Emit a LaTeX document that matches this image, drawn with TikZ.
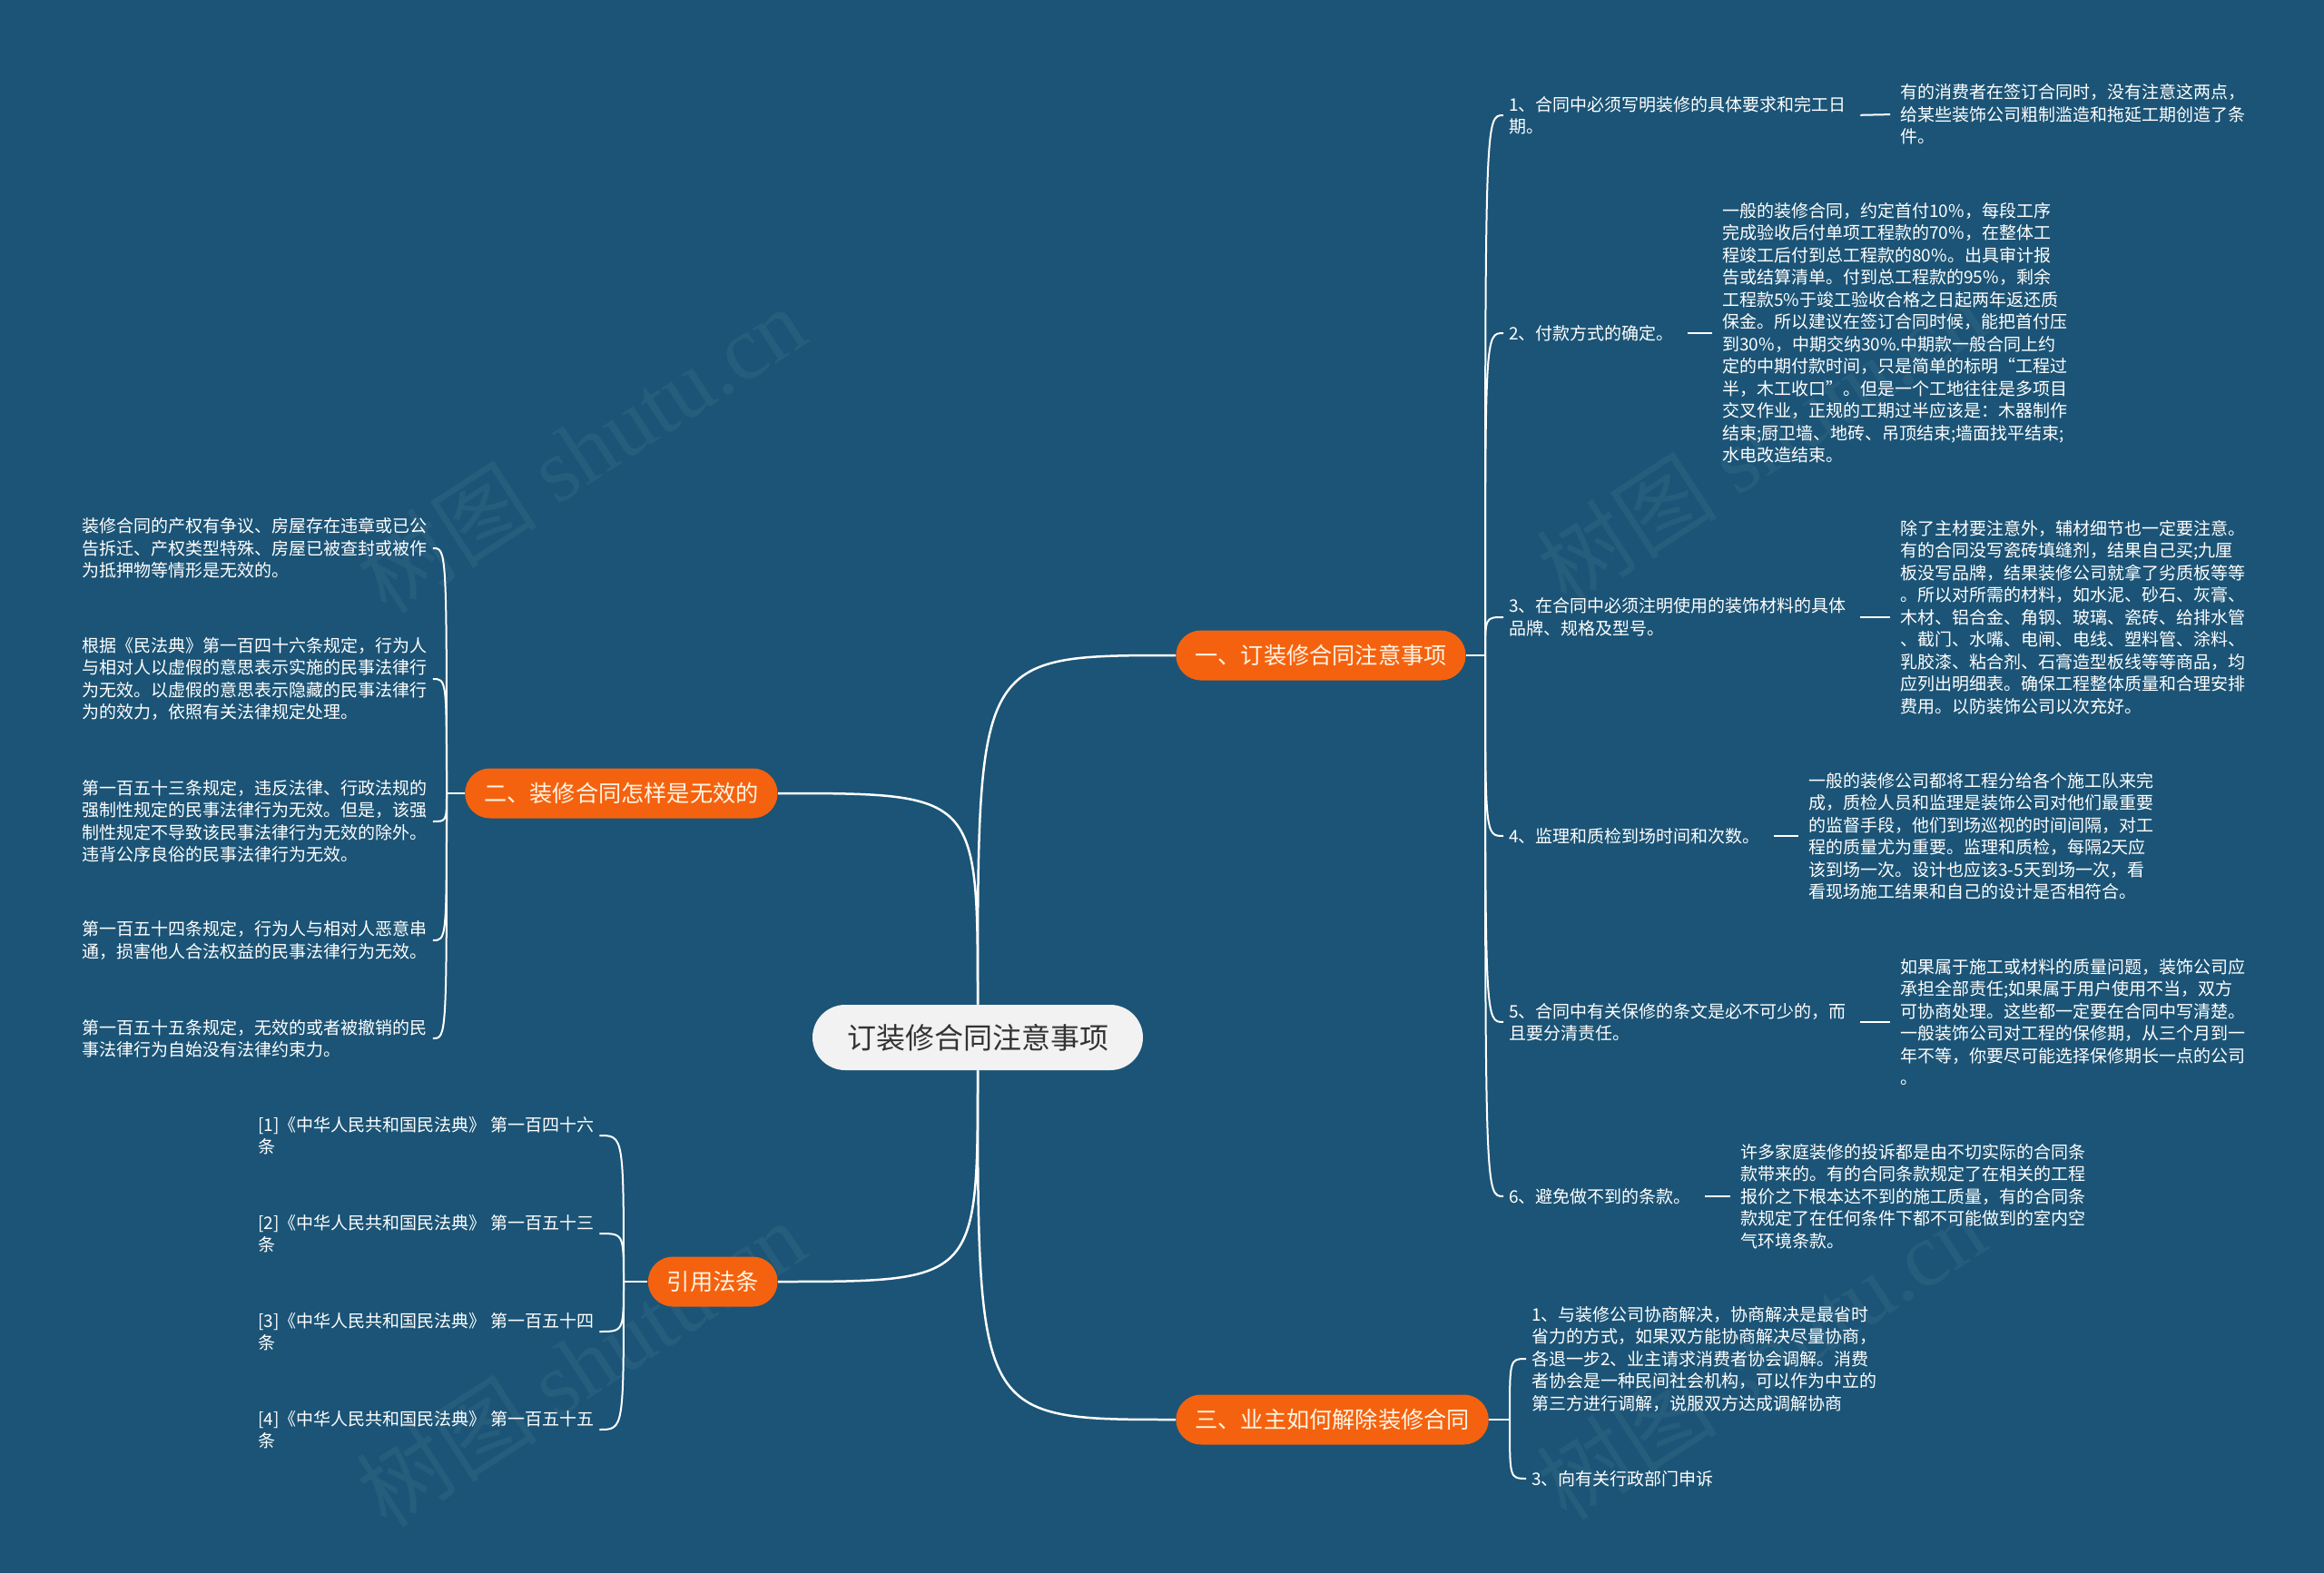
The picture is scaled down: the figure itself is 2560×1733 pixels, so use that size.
\documentclass[tikz,border=0pt]{standalone}
\usepackage{fontspec}
\setmainfont{Noto Sans CJK SC}
\newfontfamily\wmlatin{Liberation Serif}
\definecolor{bgblue}{RGB}{27,84,118}
\definecolor{brorange}{RGB}{245,98,15}
\definecolor{rootgrey}{RGB}{242,242,242}
\definecolor{rootink}{RGB}{51,51,51}
\definecolor{branchink}{RGB}{255,244,228}
\begin{document}
\begin{tikzpicture}[x=0.5pt,y=-0.5pt,
  root/.style={fill=rootgrey,text=rootink,rounded corners=18pt,minimum height=36pt,inner xsep=19pt,font=\fontsize{16}{16}\selectfont},
  branch/.style={fill=brorange,text=branchink,rounded corners=13.75pt,minimum height=27.5pt,inner xsep=10.5pt,font=\fontsize{12.6}{12.6}\selectfont},
  leaf/.style={text=white,align=left,inner xsep=3pt,inner ysep=0pt,font=\fontsize{9.5}{12.25}\selectfont},
  wmark/.style={text=white,opacity=0.05,rotate=33,font=\fontsize{50}{50}\selectfont},
  link/.style={draw=white,line width=1.25pt},
  twig/.style={draw=white,line width=1pt},
  dashline/.style={draw=white,line width=1pt,shorten <=4.5pt,shorten >=2.5pt}]
\fill[bgblue] (0,0) rectangle (2560,1733);
\useasboundingbox (0,0) rectangle (2560,1733);

\node[wmark] at (640,495) {树图 {\wmlatin shutu.cn}};
\node[wmark] at (1940,485) {树图 {\wmlatin shutu.cn}};
\node[wmark] at (640,1502) {树图 {\wmlatin shutu.cn}};
\node[wmark] at (1940,1494) {树图 {\wmlatin shutu.cn}};

\node[root] (root) at (1077,1143) {订装修合同注意事项};
\node[branch,anchor=west] (b1) at (1295,722) {一、订装修合同注意事项};
\node[branch,anchor=east] (b2) at (857,874) {二、装修合同怎样是无效的};
\node[branch,anchor=east] (b3) at (857,1412) {引用法条};
\node[branch,anchor=west] (b4) at (1295,1564) {三、业主如何解除装修合同};

\draw[link] (root.north) .. controls (root.north |- b1.west) .. (b1.west);
\draw[link] (root.north) .. controls (root.north |- b2.east) .. (b2.east);
\draw[link] (root.south) .. controls (root.south |- b3.east) .. (b3.east);
\draw[link] (root.south) .. controls (root.south |- b4.west) .. (b4.west);

% 一
\node[leaf,anchor=west] (c1) at (1656,127) {1、合同中必须写明装修的具体要求和完工日\\期。};
\node[leaf,anchor=west] (c2) at (1656,367) {2、付款方式的确定。};
\node[leaf,anchor=west] (c3) at (1656,680) {3、在合同中必须注明使用的装饰材料的具体\\品牌、规格及型号。};
\node[leaf,anchor=west] (c4) at (1656,921) {4、监理和质检到场时间和次数。};
\node[leaf,anchor=west] (c5) at (1656,1126) {5、合同中有关保修的条文是必不可少的，而\\且要分清责任。};
\node[leaf,anchor=west] (c6) at (1656,1318) {6、避免做不到的条款。};

\node[leaf,anchor=west] (d1) at (2087,126) {有的消费者在签订合同时，没有注意这两点，\\给某些装饰公司粗制滥造和拖延工期创造了条\\件。};
\node[leaf,anchor=west] (d2) at (1891,367) {一般的装修合同，约定首付10\%，每段工序\\完成验收后付单项工程款的70\%，在整体工\\程竣工后付到总工程款的80\%。出具审计报\\告或结算清单。付到总工程款的95\%，剩余\\工程款5\%于竣工验收合格之日起两年返还质\\保金。所以建议在签订合同时候，能把首付压\\到30\%，中期交纳30\%.中期款一般合同上约\\定的中期付款时间，只是简单的标明“工程过\\半，木工收口”。但是一个工地往往是多项目\\交叉作业，正规的工期过半应该是：木器制作\\结束;厨卫墙、地砖、吊顶结束;墙面找平结束;\\水电改造结束。};
\node[leaf,anchor=west] (d3) at (2087,680) {除了主材要注意外，辅材细节也一定要注意。\\有的合同没写瓷砖填缝剂，结果自己买;九厘\\板没写品牌，结果装修公司就拿了劣质板等等\\。所以对所需的材料，如水泥、砂石、灰膏、\\木材、铝合金、角钢、玻璃、瓷砖、给排水管\\、截门、水嘴、电闸、电线、塑料管、涂料、\\乳胶漆、粘合剂、石膏造型板线等等商品，均\\应列出明细表。确保工程整体质量和合理安排\\费用。以防装饰公司以次充好。};
\node[leaf,anchor=west] (d4) at (1986,921) {一般的装修公司都将工程分给各个施工队来完\\成，质检人员和监理是装饰公司对他们最重要\\的监督手段，他们到场巡视的时间间隔，对工\\程的质量尤为重要。监理和质检，每隔2天应\\该到场一次。设计也应该3-5天到场一次，看\\看现场施工结果和自己的设计是否相符合。};
\node[leaf,anchor=west] (d5) at (2087,1126) {如果属于施工或材料的质量问题，装饰公司应\\承担全部责任;如果属于用户使用不当，双方\\可协商处理。这些都一定要在合同中写清楚。\\一般装饰公司对工程的保修期，从三个月到一\\年不等，你要尽可能选择保修期长一点的公司\\。};
\node[leaf,anchor=west] (d6) at (1911,1318) {许多家庭装修的投诉都是由不切实际的合同条\\款带来的。有的合同条款规定了在相关的工程\\报价之下根本达不到的施工质量，有的合同条\\款规定了在任何条件下都不可能做到的室内空\\气环境条款。};

\coordinate (j1) at (1636,722);
\draw[link] (b1.east) -- (j1);
\foreach \c in {c1,c2,c3,c4,c5,c6}
  \draw[twig] (j1) .. controls (j1 |- \c.west) and (j1 |- \c.west) .. (\c.west);
\foreach \i in {1,...,6}
  \draw[dashline] (c\i.east) -- (d\i.west);

% 二
\node[leaf,anchor=west] (l1) at (84,604) {装修合同的产权有争议、房屋存在违章或已公\\告拆迁、产权类型特殊、房屋已被查封或被作\\为抵押物等情形是无效的。};
\node[leaf,anchor=west] (l2) at (84,748) {根据《民法典》第一百四十六条规定，行为人\\与相对人以虚假的意思表示实施的民事法律行\\为无效。以虚假的意思表示隐藏的民事法律行\\为的效力，依照有关法律规定处理。};
\node[leaf,anchor=west] (l3) at (84,905) {第一百五十三条规定，违反法律、行政法规的\\强制性规定的民事法律行为无效。但是，该强\\制性规定不导致该民事法律行为无效的除外。\\违背公序良俗的民事法律行为无效。};
\node[leaf,anchor=west] (l4) at (84,1036) {第一百五十四条规定，行为人与相对人恶意串\\通，损害他人合法权益的民事法律行为无效。};
\node[leaf,anchor=west] (l5) at (84,1144) {第一百五十五条规定，无效的或者被撤销的民\\事法律行为自始没有法律约束力。};

\coordinate (j2) at (492,874);
\draw[link] (b2.west) -- (j2);
\foreach \c in {l1,l2,l3,l4,l5}
  \draw[twig] (j2) .. controls (j2 |- \c.east) and (j2 |- \c.east) .. (\c.east);

% 引用法条
\node[leaf,anchor=west] (r1) at (278,1251) {[1]《中华人民共和国民法典》 第一百四十六\\条};
\node[leaf,anchor=west] (r2) at (278,1359) {[2]《中华人民共和国民法典》 第一百五十三\\条};
\node[leaf,anchor=west] (r3) at (278,1467) {[3]《中华人民共和国民法典》 第一百五十四\\条};
\node[leaf,anchor=west] (r4) at (278,1575) {[4]《中华人民共和国民法典》 第一百五十五\\条};

\coordinate (j3) at (687,1412);
\draw[link] (b3.west) -- (j3);
\foreach \c in {r1,r2,r3,r4}
  \draw[twig] (j3) .. controls (j3 |- \c.east) and (j3 |- \c.east) .. (\c.east);

% 三
\node[leaf,anchor=west] (a1) at (1681,1497) {1、与装修公司协商解决，协商解决是最省时\\省力的方式，如果双方能协商解决尽量协商，\\各退一步2、业主请求消费者协会调解。消费\\者协会是一种民间社会机构，可以作为中立的\\第三方进行调解，说服双方达成调解协商};
\node[leaf,anchor=west] (a2) at (1681,1629) {3、向有关行政部门申诉};

\coordinate (j4) at (1663,1564);
\draw[link] (b4.east) -- (j4);
\foreach \c in {a1,a2}
  \draw[twig] (j4) .. controls (j4 |- \c.west) and (j4 |- \c.west) .. (\c.west);
\end{tikzpicture}
\end{document}
